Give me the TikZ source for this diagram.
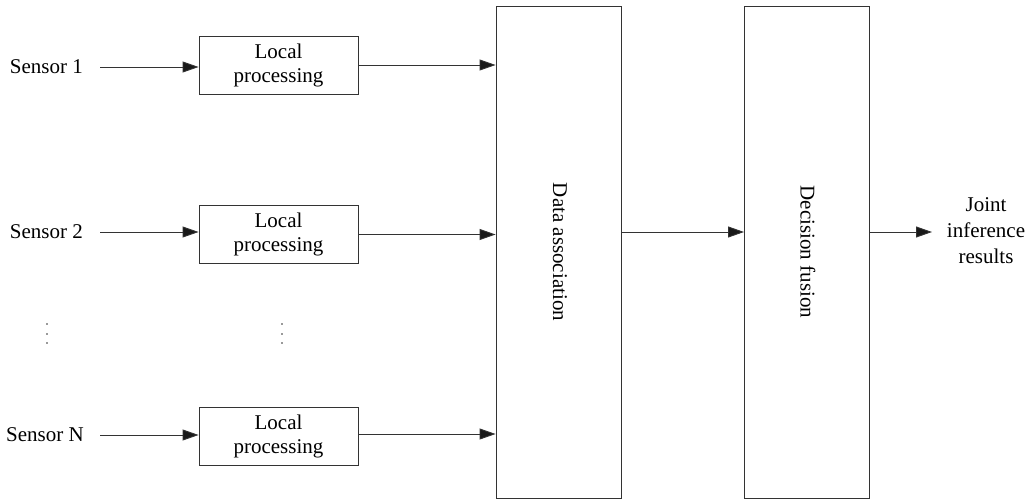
\documentclass[tikz,border=0pt]{standalone}
\usepackage{fontspec}
\setmainfont{Liberation Serif}
\usetikzlibrary{arrows.meta}
\begin{document}
\begin{tikzpicture}[x=1pt,y=-1pt,
  line/.style={draw=black!80,line width=0.9pt},
  flow/.style={line,-{Triangle[length=16pt,width=11pt,fill=black!90]}},
  lpbox/.style={line,minimum width=159pt,minimum height=58pt,inner sep=0pt,
    align=center,font=\fontsize{21}{24}\selectfont},
  tallbox/.style={line,minimum width=125pt,minimum height=492pt,inner sep=0pt},
  label/.style={inner sep=0pt,font=\fontsize{21}{24}\selectfont}
]
\useasboundingbox (0,0) rectangle (1031,500);

% sensors
\node[label,anchor=east] (s1) at (83,67) {Sensor 1};
\node[label,anchor=east] (s2) at (83,232) {Sensor 2};
\node[label,anchor=east] (sn) at (84,435) {Sensor N};

% local processing stages
\node[lpbox] (lp1) at (278.5,65) {Local\\processing};
\node[lpbox] (lp2) at (278.5,234.5) {Local\\processing};
\node[lpbox] (lpn) at (278.5,436.5) {Local\\processing};

% ellipsis between stages
\foreach \yy [count=\i] in {324,334,343}{
  \fill[black!80] (47,\yy) circle (0.9pt) coordinate (dl\i);
  \fill[black!80] (282,\yy) circle (0.9pt) coordinate (dr\i);
}

% fusion stages
\node[tallbox] (da) at (558.5,252) {};
\node[rotate=-90,label] at (560,252) {Data association};
\node[tallbox] (df) at (807,252) {};
\node[rotate=-90,label] at (808,252) {Decision fusion};

% result
\node[label,align=center,font=\fontsize{21}{26}\selectfont] (jr) at (986,231) {Joint\\inference\\results};
\coordinate (out) at (932,232);

% connectors
\draw[flow] (100,0 |- s1.east) -- (s1.east -| lp1.west);
\draw[flow] (100,0 |- s2.east) -- (s2.east -| lp2.west);
\draw[flow] (100,0 |- sn.east) -- (sn.east -| lpn.west);

\draw[flow] (lp1.east) -- (lp1.east -| da.west);
\draw[flow] (lp2.east) -- (lp2.east -| da.west);
\draw[flow] ([yshift=2.5pt]lpn.east) -- ([yshift=2.5pt]lpn.east -| da.west);

\draw[flow] (da.east |- out) -- (df.west |- out);
\draw[flow] (df.east |- out) -- (out);
\end{tikzpicture}
\end{document}
